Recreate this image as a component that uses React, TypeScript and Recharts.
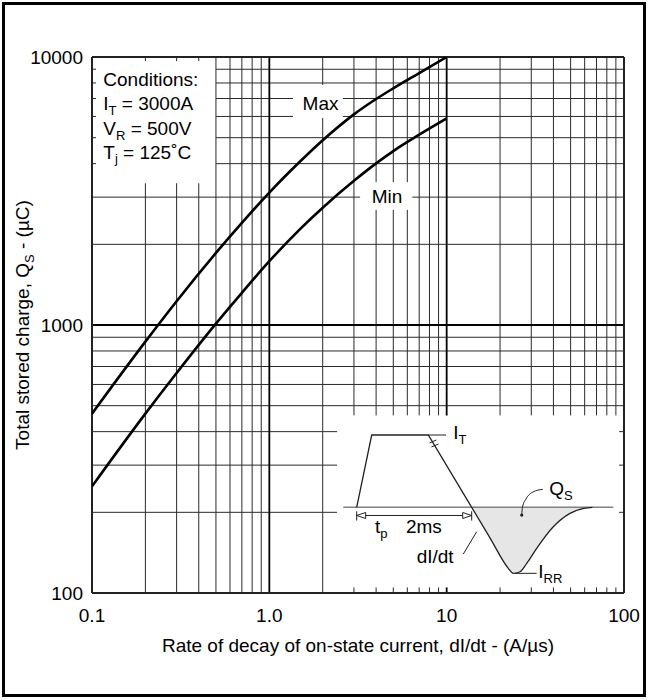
import React from "react";
import {
  ComposedChart,
  Line,
  Area,
  XAxis,
  YAxis,
  ReferenceLine,
  ReferenceDot,
} from "recharts";

const FONT = "'Liberation Sans', Arial, Helvetica, sans-serif";

// ---- Main data: rate of decay dI/dt (A/µs) vs total stored charge Qs (µC)
const dIdt = [0.1, 0.2, 0.3, 0.5, 0.7, 1, 1.5, 2, 3, 4, 5, 7, 10];
const qsMax = [467, 867, 1227, 1857, 2404, 3120, 4090, 4890, 6110, 6970, 7640, 8710, 10000];
const qsMin = [250, 467, 662, 1012, 1318, 1730, 2290, 2740, 3451, 4009, 4457, 5129, 5900];

// ---- Axis ticks
const xTicks = [0.1, 1, 10, 100];
const xTickLabels = ["0.1", "1.0", "10", "100"];
const yTicks = [100, 1000, 10000];
const yTickLabels = ["100", "1000", "10000"];

// ---- Grid values
const xGridMinor = [0.2, 0.3, 0.4, 0.5, 0.6, 0.7, 0.8, 0.9, 2, 3, 4, 5, 6, 7, 8, 9, 20, 30, 40, 50, 60, 70, 80, 90];
const xGridMajor = [1, 10];
const yGridMinor = [200, 300, 400, 500, 600, 700, 800, 900, 2000, 3000, 4000, 5000, 6000, 7000, 8000, 9000];
const yGridMajor = [1000];

// ---- Inset schematic: time (ms) and current (% of I_T)
const waveT = [0, 0.261, 1.245, 2.0];
const waveI = [0, 100, 100, 0];
const recT = [2.0, 2.318, 2.637, 2.723, 2.84, 2.957, 3.13, 3.419, 3.71, 3.95, 4.1];
const recI = [0, -42.2, -84.4, -91.3, -89.1, -77.5, -56.7, -26.8, -8.3, -1.5, 0];
const qsLeaderT = [2.87, 2.883, 2.944, 3.066, 3.235];
const qsLeaderI = [-10.7, 0.4, 11.5, 21.2, 24.9];

// layout constants
const X_DOMAIN: [number, number] = [0.1, 100];
const Y_DOMAIN: [number, number] = [100, 10000];
const SCH_T: [number, number] = [-4.6035, 4.6487];
const SCH_I: [number, number] = [-118.5, 622.8];

// grid-free boxes (label boxes and inset), in data units
const gapBoxes = [
  { x1: 0.1053, x2: 0.5, y1: 3380, y2: 9650 },
  { x1: 1.36, x2: 2.6, y1: 5920, y2: 7860 },
  { x1: 3.25, x2: 6.4, y1: 2690, y2: 3410 },
  { x1: 2.41, x2: 93.8, y1: 104.9, y2: 460 },
];

const maxData = dIdt.map((x, i) => ({ x, y: qsMax[i] }));
const minData = dIdt.map((x, i) => ({ x, y: qsMin[i] }));
const waveData = waveT.map((t, i) => ({ t, i: waveI[i] }));
const recData = recT.map((t, i) => ({ t, i: recI[i] }));
const qsLeaderData = qsLeaderT.map((t, i) => ({ t, i: qsLeaderI[i] }));

function splitSpan(lo: number, hi: number, cuts: [number, number][]) {
  const sorted = [...cuts].sort((a, b) => a[0] - b[0]);
  const out: [number, number][] = [];
  let cur = lo;
  for (const [a, b] of sorted) {
    if (a > cur) out.push([cur, Math.min(a, hi)]);
    cur = Math.max(cur, b);
  }
  if (cur < hi) out.push([cur, hi]);
  return out;
}

const GRID_MINOR = { stroke: "#2a2a2a", strokeWidth: 1 };
const GRID_MAJOR = { stroke: "#000", strokeWidth: 1.8 };

function verticalGrid(vals: number[], style: any, keyp: string) {
  const els: any[] = [];
  vals.forEach((v) => {
    const cuts = gapBoxes.filter((b) => b.x1 < v && v < b.x2).map((b) => [b.y1, b.y2] as [number, number]);
    splitSpan(Y_DOMAIN[0], Y_DOMAIN[1], cuts).forEach(([a, b], k) => {
      els.push(
        <ReferenceLine
          key={`${keyp}-${v}-${k}`}
          segment={[{ x: v, y: a }, { x: v, y: b }]}
          ifOverflow="visible"
          {...style}
        />
      );
    });
  });
  return els;
}

function horizontalGrid(vals: number[], style: any, keyp: string) {
  const els: any[] = [];
  vals.forEach((v) => {
    const cuts = gapBoxes.filter((b) => b.y1 < v && v < b.y2).map((b) => [b.x1, b.x2] as [number, number]);
    splitSpan(X_DOMAIN[0], X_DOMAIN[1], cuts).forEach(([a, b], k) => {
      els.push(
        <ReferenceLine
          key={`${keyp}-${v}-${k}`}
          segment={[{ x: a, y: v }, { x: b, y: v }]}
          ifOverflow="visible"
          {...style}
        />
      );
    });
  });
  return els;
}

const SUBF = 13;
const SUBDY = 4.5;

const textShape =
  (children: any, dx = 0, dy = 0, anchor: string = "start") =>
  (p: any) =>
    (
      <text
        x={p.cx + dx}
        y={p.cy + dy}
        textAnchor={anchor as any}
        fontFamily={FONT}
        fontSize={19}
        fill="#000"
      >
        {children}
      </text>
    );

const withSub = (main: string, sub: string, rest?: string) => (
  <>
    {main}
    <tspan dy={SUBDY} fontSize={SUBF} fill="#000">
      {sub}
    </tspan>
    {rest ? <tspan dy={-SUBDY}>{rest}</tspan> : null}
  </>
);

const conditionsShape = (p: any) => {
  const x = p.cx + 11.3;
  const y = p.cy;
  return (
    <g fontFamily={FONT} fontSize={19} fill="#000">
      <text x={x} y={y + 28.5}>Conditions:</text>
      <text x={x} y={y + 53}>{withSub("I", "T", " = 3000A")}</text>
      <text x={x} y={y + 78}>{withSub("V", "R", " = 500V")}</text>
      <text x={x} y={y + 101.5}>{withSub("T", "j", " = 125˚C")}</text>
    </g>
  );
};

const arrowHead = (dir: number) => (p: any) =>
  (
    <path
      d={`M${p.cx},${p.cy} L${p.cx + dir * 9},${p.cy - 3} L${p.cx + dir * 9},${p.cy + 3} Z`}
      fill="#fff"
      stroke="#222"
      strokeWidth={1}
    />
  );

const breakShape = (p: any) => (
  <g stroke="#222" strokeWidth={1}>
    <line x1={p.cx - 4} y1={p.cy - 1} x2={p.cx + 3} y2={p.cy - 4} />
    <line x1={p.cx - 2} y1={p.cy + 3} x2={p.cx + 5} y2={p.cy} />
  </g>
);

const dotShape = (p: any) => <circle cx={p.cx} cy={p.cy} r={1.6} fill="#222" />;

const XTitle = (props: any) => {
  const vb = props.viewBox || { x: 92, y: 593, width: 532, height: 50 };
  return (
    <text
      x={vb.x + vb.width / 2}
      y={vb.y + 59}
      textAnchor="middle"
      fontFamily={FONT}
      fontSize={19}
      fill="#000"
    >
      Rate of decay of on-state current, dI/dt - (A/µs)
    </text>
  );
};

const YTitle = (props: any) => {
  const vb = props.viewBox || { x: 12, y: 57, width: 80, height: 536 };
  const x = vb.x + 17;
  const y = vb.y + vb.height / 2;
  return (
    <text
      x={x}
      y={y}
      transform={`rotate(-90, ${x}, ${y})`}
      textAnchor="middle"
      fontFamily={FONT}
      fontSize={19}
      fill="#000"
    >
      {withSub("Total stored charge, Q", "S", " - (µC)")}
    </text>
  );
};

const SCH = { xAxisId: "sch", yAxisId: "sch" } as const;
const INK = "#222";

export default function App() {
  return (
    <div
      style={{
        position: "absolute",
        left: 0,
        top: 0,
        width: 648,
        height: 700,
        background: "#fff",
      }}
    >
      <div
        style={{
          position: "absolute",
          left: 2,
          top: 2,
          width: 644,
          height: 695,
          boxSizing: "border-box",
          border: "3px solid #000",
        }}
      />
      <ComposedChart
        width={648}
        height={700}
        margin={{ top: 57, right: 24, bottom: 57, left: 12 }}
        style={{ position: "absolute", left: 0, top: 0 }}
      >
        <XAxis
          dataKey="x"
          type="number"
          scale="log"
          domain={X_DOMAIN}
          allowDataOverflow
          ticks={xTicks}
          interval={0}
          tickFormatter={(v: number) => xTickLabels[xTicks.indexOf(v)] ?? String(v)}
          tickLine={false}
          axisLine={false}
          tickMargin={9.5}
          height={50}
          tick={{ fontSize: 19, fill: "#000", fontFamily: FONT }}
          label={{ content: XTitle }}
        />
        <YAxis
          type="number"
          scale="log"
          domain={Y_DOMAIN}
          allowDataOverflow
          ticks={yTicks}
          interval={0}
          tickFormatter={(v: number) => yTickLabels[yTicks.indexOf(v)] ?? String(v)}
          tickLine={false}
          axisLine={false}
          tickMargin={3}
          width={80}
          tick={{ fontSize: 19, fill: "#000", fontFamily: FONT }}
          label={{ content: YTitle }}
        />
        <XAxis xAxisId="sch" dataKey="t" type="number" domain={SCH_T} allowDataOverflow hide />
        <YAxis yAxisId="sch" type="number" domain={SCH_I} allowDataOverflow hide />

        {verticalGrid(xGridMinor, GRID_MINOR, "vm")}
        {horizontalGrid(yGridMinor, GRID_MINOR, "hm")}
        {verticalGrid(xGridMajor, GRID_MAJOR, "vM")}
        {horizontalGrid(yGridMajor, GRID_MAJOR, "hM")}

        {/* plot frame */}
        <ReferenceLine x={X_DOMAIN[0]} stroke="#222" strokeWidth={2} ifOverflow="visible" />
        <ReferenceLine x={X_DOMAIN[1]} stroke="#222" strokeWidth={2} ifOverflow="visible" />
        <ReferenceLine y={Y_DOMAIN[0]} stroke="#222" strokeWidth={2} ifOverflow="visible" />
        <ReferenceLine y={Y_DOMAIN[1]} stroke="#222" strokeWidth={2} ifOverflow="visible" />

        {/* main curves */}
        <Line
          data={maxData}
          dataKey="y"
          type="monotone"
          stroke="#000"
          strokeWidth={2.6}
          dot={false}
          activeDot={false}
          isAnimationActive={false}
        />
        <Line
          data={minData}
          dataKey="y"
          type="monotone"
          stroke="#000"
          strokeWidth={2.6}
          dot={false}
          activeDot={false}
          isAnimationActive={false}
        />

        {/* labels */}
        <ReferenceDot x={0.1} y={10000} ifOverflow="visible" shape={conditionsShape} />
        <ReferenceDot x={1.944} y={6735} ifOverflow="visible" shape={textShape("Max", 0, 7, "middle")} />
        <ReferenceDot x={4.61} y={3029} ifOverflow="visible" shape={textShape("Min", 0, 7, "middle")} />

        {/* inset schematic */}
        <Area
          {...SCH}
          data={recData}
          dataKey="i"
          type="monotone"
          baseValue={0}
          fill="#e6e6e6"
          fillOpacity={1}
          stroke="none"
          dot={false}
          activeDot={false}
          isAnimationActive={false}
        />
        <ReferenceLine
          {...SCH}
          segment={[{ x: -0.233, y: 0 }, { x: 4.463, y: 0 }]}
          stroke="#808080"
          strokeWidth={1.6}
          ifOverflow="visible"
        />
        <Line
          {...SCH}
          data={waveData}
          dataKey="i"
          type="linear"
          stroke={INK}
          strokeWidth={1.3}
          dot={false}
          activeDot={false}
          isAnimationActive={false}
        />
        <Line
          {...SCH}
          data={recData}
          dataKey="i"
          type="monotone"
          stroke={INK}
          strokeWidth={1.3}
          dot={false}
          activeDot={false}
          isAnimationActive={false}
        />
        <Line
          {...SCH}
          data={qsLeaderData}
          dataKey="i"
          type="monotone"
          stroke={INK}
          strokeWidth={1}
          dot={false}
          activeDot={false}
          isAnimationActive={false}
        />
        <ReferenceDot {...SCH} x={2.87} y={-10.7} ifOverflow="visible" shape={dotShape} />
        <ReferenceDot {...SCH} x={1.336} y={87.6} ifOverflow="visible" shape={breakShape} />
        {/* I_T leader */}
        <ReferenceLine {...SCH} segment={[{ x: 1.245, y: 100 }, { x: 1.553, y: 100 }]} stroke={INK} strokeWidth={1} ifOverflow="visible" />
        {/* t_p / 2ms arrow */}
        <ReferenceLine {...SCH} segment={[{ x: 0, y: -11.3 }, { x: 2, y: -11.3 }]} stroke={INK} strokeWidth={1} ifOverflow="visible" />
        <ReferenceLine {...SCH} segment={[{ x: 0, y: -5.4 }, { x: 0, y: -18.3 }]} stroke={INK} strokeWidth={1} ifOverflow="visible" />
        <ReferenceLine {...SCH} segment={[{ x: 2, y: -5.4 }, { x: 2, y: -18.3 }]} stroke={INK} strokeWidth={1} ifOverflow="visible" />
        <ReferenceDot {...SCH} x={0} y={-11.3} ifOverflow="visible" shape={arrowHead(1)} />
        <ReferenceDot {...SCH} x={2} y={-11.3} ifOverflow="visible" shape={arrowHead(-1)} />
        {/* dI/dt leader */}
        <ReferenceLine {...SCH} segment={[{ x: 1.854, y: -64.6 }, { x: 2.087, y: -33.7 }]} stroke={INK} strokeWidth={1} ifOverflow="visible" />
        {/* I_RR leader */}
        <ReferenceLine {...SCH} segment={[{ x: 2.753, y: -91.3 }, { x: 3.13, y: -91.3 }]} stroke={INK} strokeWidth={1} ifOverflow="visible" />

        <ReferenceDot {...SCH} x={1.68} y={94} ifOverflow="visible" shape={textShape(withSub("I", "T"))} />
        <ReferenceDot {...SCH} x={3.35} y={17} ifOverflow="visible" shape={textShape(withSub("Q", "S"))} />
        <ReferenceDot {...SCH} x={0.318} y={-36} ifOverflow="visible" shape={textShape(withSub("t", "p"))} />
        <ReferenceDot {...SCH} x={0.857} y={-36} ifOverflow="visible" shape={textShape("2ms")} />
        <ReferenceDot {...SCH} x={1.043} y={-77.5} ifOverflow="visible" shape={textShape("dI/dt")} />
        <ReferenceDot {...SCH} x={3.158} y={-98.2} ifOverflow="visible" shape={textShape(withSub("I", "RR"))} />
      </ComposedChart>
    </div>
  );
}
